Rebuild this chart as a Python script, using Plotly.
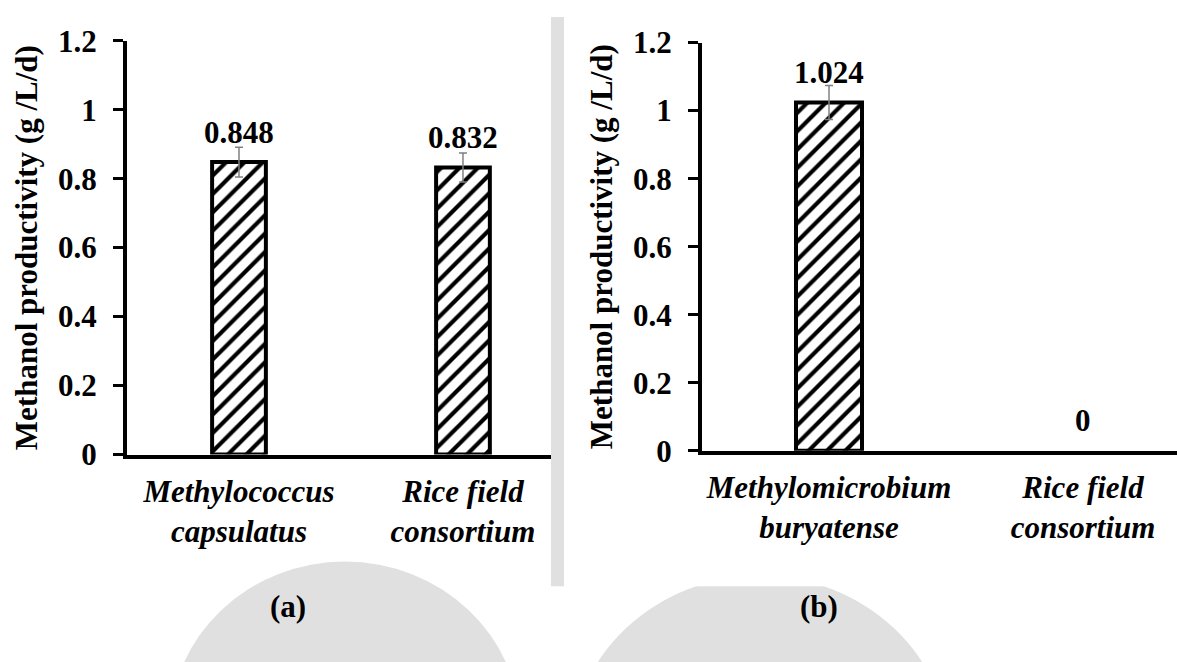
import plotly.graph_objects as go

# ---- data ----
cats_a = ["Methylococcus<br>capsulatus", "Rice field<br>consortium"]
vals_a = [0.848, 0.832]
err_a = [0.043, 0.042]

cats_b = ["Methylomicrobium<br>buryatense", "Rice field<br>consortium"]
vals_b = [1.024, 0.0]
err_b = [0.05, 0.0]

y_ticks = [0, 0.2, 0.4, 0.6, 0.8, 1.0, 1.2]
y_ticktext = ["0", "0.2", "0.4", "0.6", "0.8", "1", "1.2"]
y_title = "Methanol productivity (g /L/d)"
panel_labels = ["(a)", "(b)"]

FONT = "Liberation Serif, Times New Roman, serif"
FS = 31
W, H = 1177, 662
GRAY = "#e0e0e0"

fig = go.Figure()

# watermark-like background pieces (drawn first, below everything)
def px_rect(x0, y0, x1, y1, color):
    fig.add_shape(type="rect", xref="paper", yref="paper",
                  x0=x0 / W, x1=x1 / W, y0=1 - y1 / H, y1=1 - y0 / H,
                  fillcolor=color, line_width=0, layer="below")

def px_circle(cx, cy, r, color):
    fig.add_shape(type="circle", xref="paper", yref="paper",
                  x0=(cx - r) / W, x1=(cx + r) / W, y0=1 - (cy + r) / H, y1=1 - (cy - r) / H,
                  fillcolor=color, line_width=0, layer="below")

px_circle(345, 750, 175, GRAY)
px_circle(760, 780, 190, GRAY)
px_rect(551, 0, 564, 601, GRAY)
# white panel boxes
px_rect(0, 0, 551, 564, "white")
px_rect(564, 0, 1177, 601, "white")


def add_panel(cats, vals, errs, xa, ya, bw):
    err = list(errs)
    while err and err[-1] == 0:   # no error bar on empty bars
        err.pop()
    fig.add_trace(go.Bar(
        x=list(range(len(cats))), y=vals, width=bw,
        xaxis=xa, yaxis=ya,
        marker=dict(color="white",
                    opacity=[1 if v > 0 else 0 for v in vals],
                    line=dict(color="black", width=4),
                    pattern=dict(shape="/", fgcolor="black", bgcolor="white",
                                 size=13, solidity=0.32, fillmode="replace")),
        error_y=dict(type="data", array=err, visible=True,
                     color="#808080", thickness=1.5, width=4),
        showlegend=False, hoverinfo="skip"))
    for i, v in enumerate(vals):
        fig.add_annotation(x=i, y=v, xref=xa, yref=ya, text="<b>%s</b>" % ("%g" % v),
                           showarrow=False, yshift=30, yanchor="middle",
                           font=dict(family=FONT, size=FS, color="black"))


add_panel(cats_a, vals_a, err_a, "x", "y", 0.24)
add_panel(cats_b, vals_b, err_b, "x2", "y2", 0.26)

bold_font = dict(family=FONT, size=FS, color="black", weight="bold")

axis_common_y = dict(range=[0, 1.2], tickvals=y_ticks, ticktext=y_ticktext,
                     ticks="outside", ticklen=10, tickwidth=3, tickcolor="black",
                     showline=True, linewidth=4, linecolor="black",
                     showgrid=False, zeroline=False, ticklabelstandoff=10,
                     tickfont=bold_font,
                     title=dict(text=y_title, font=bold_font, standoff=12))

axis_common_x = dict(showline=True, linewidth=4, linecolor="black", ticks="",
                     showgrid=False, zeroline=False, ticklabelstandoff=6,
                     tickfont=dict(family=FONT, size=FS, color="black",
                                   weight="bold", style="italic"))

fig.update_layout(
    width=W, height=H, margin=dict(l=0, r=0, t=0, b=0),
    paper_bgcolor="white", plot_bgcolor="rgba(0,0,0,0)",
    font=dict(family=FONT, size=FS, color="black"),
    xaxis=dict(domain=[127 / W, 551 / W], range=[-0.5, 1.393],
               tickvals=[0, 1], ticktext=cats_a, anchor="y", **axis_common_x),
    yaxis=dict(domain=[1 - 462 / H, 1 - 25 / H], anchor="x", **axis_common_y),
    xaxis2=dict(domain=[702 / W, 1.0], range=[-0.5, 1.370],
                tickvals=[0, 1], ticktext=cats_b, anchor="y2", **axis_common_x),
    yaxis2=dict(domain=[1 - 458 / H, 1 - 27 / H], anchor="x2", **axis_common_y),
)

for lbl, xc in zip(panel_labels, [268, 840]):
    fig.add_annotation(xref="paper", yref="paper", x=xc / W, y=1 - 643 / H,
                       text="<b>%s</b>" % lbl, showarrow=False,
                       font=dict(family=FONT, size=FS, color="black"))

fig.write_html("out.html")
